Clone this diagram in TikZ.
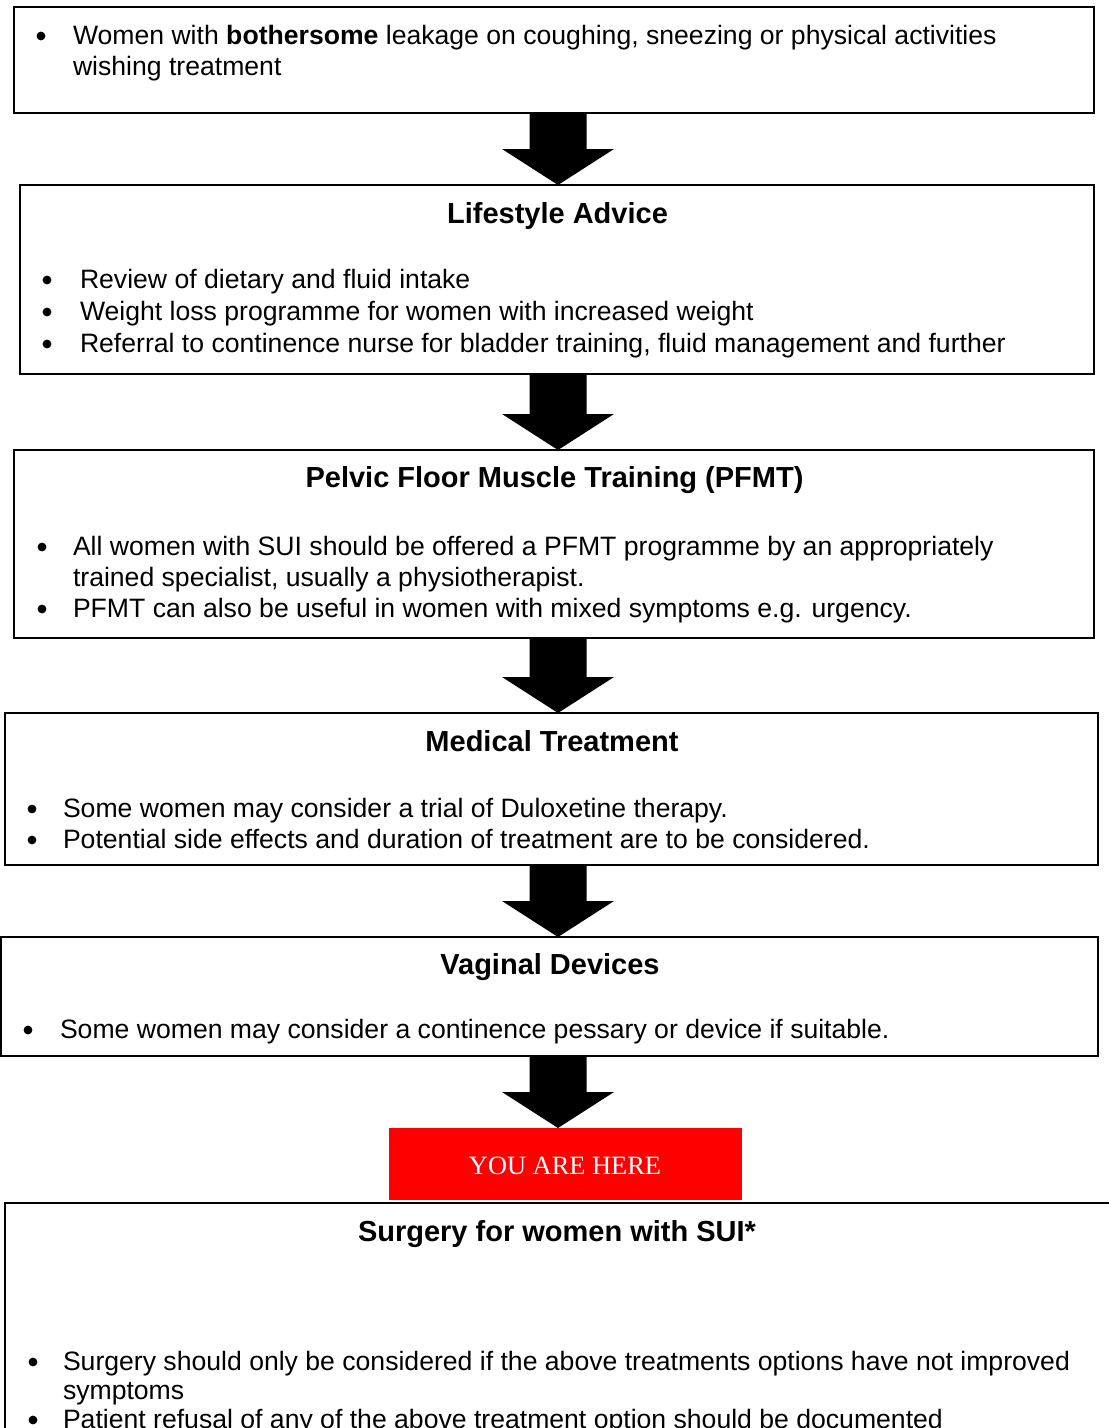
\documentclass[tikz,border=0pt]{standalone}
\usepackage{fontspec}
\setmainfont{Liberation Sans}
\newfontfamily\redserif{Liberation Serif}
\usetikzlibrary{calc}
\begin{document}
\begin{tikzpicture}[x=0.75pt,y=-0.75pt,
  box/.style={draw=black,line width=1.2pt,anchor=north west,inner sep=0,outer sep=0},
  body/.style={anchor=base west,inner sep=0,outer sep=0,font=\fontsize{19.95pt}{24pt}\selectfont},
  bul/.style={circle,fill=black,inner sep=0,outer sep=0,minimum size=6.6pt,yshift=6pt},
  ttl/.style={anchor=base,inner sep=0,outer sep=0,font=\fontsize{21.75pt}{26pt}\selectfont\bfseries},
  redbox/.style={fill={rgb,255:red,255;green,0;blue,0},anchor=north west,inner sep=0,outer sep=0},
  blk/.style={fill=black}]
\useasboundingbox (0,0) rectangle (1109,1428);
\clip (0,0) rectangle (1109,1428);
\fill[white] (0,0) rectangle (1109,1428);
\coordinate (ax) at (558,0);
% boxes
\node[box,minimum width=810pt,minimum height=79.5pt] (b1) at (14,7) {};
\node[box,minimum width=805.5pt,minimum height=141.75pt] (b2) at (20,185) {};
\node[box,minimum width=810pt,minimum height=141pt] (b3) at (14,450) {};
\node[box,minimum width=819.75pt,minimum height=114pt] (b4) at (5,713) {};
\node[box,minimum width=822.75pt,minimum height=89.25pt] (b5) at (1,937) {};
\node[redbox,minimum width=264.75pt,minimum height=54pt] (red) at (389,1128) {};
\node[inner sep=0,text=white,font=\fontsize{19.8pt}{24pt}\redserif] (redt) at (565,1166) {YOU ARE HERE};
\node[box,minimum width=847.5pt,minimum height=225pt] (b6) at (5,1203) {};
% arrows
\foreach \a/\b in {b1/b2,b2/b3,b3/b4,b4/b5,b5/red}{
  \fill[blk] ($(\a.south -| ax)+(-28.5,0)$) -- ($(\b.north -| ax)+(-28.5,-36)$)
    -- ($(\b.north -| ax)+(-56,-36)$) -- (\b.north -| ax)
    -- ($(\b.north -| ax)+(56,-36)$) -- ($(\b.north -| ax)+(28.5,-36)$)
    -- ($(\a.south -| ax)+(28.5,0)$) -- cycle;
}
% box 1
\node[bul] (b1u1) at (41,44) {};
\node[body] (b1l1) at (73,44) {Women with \textbf{bothersome} leakage on coughing, sneezing or physical activities};
\node[body] (b1l2) at (73,75) {wishing treatment};
% box 2
\node[ttl] (b2t) at (557.5,223) {Lifestyle Advice};
\node[bul] (b2u1) at (47,288) {};
\node[body] (b2l1) at (80,288) {Review of dietary and fluid intake};
\node[bul] (b2u2) at (47,320) {};
\node[body] (b2l2) at (80,320) {Weight loss programme for women with increased weight};
\node[bul] (b2u3) at (47,352) {};
\node[body] (b2l3) at (80,352) {Referral to continence nurse for bladder training, fluid management and further};
% box 3
\node[ttl] (b3t) at (554.5,487) {Pelvic Floor Muscle Training (PFMT)};
\node[bul] (b3u1) at (42,555) {};
\node[body] (b3l1) at (73,555) {All women with SUI should be offered a PFMT programme by an appropriately};
\node[body] (b3l2) at (73,586) {trained specialist, usually a physiotherapist.};
\node[bul] (b3u2) at (42,617) {};
\node[body] (b3l3) at (73,617) {PFMT can also be useful in women with mixed symptoms e.g. urgency.};
% box 4
\node[ttl] (b4t) at (552,751) {Medical Treatment};
\node[bul] (b4u1) at (32,817) {};
\node[body] (b4l1) at (63,817) {Some women may consider a trial of Duloxetine therapy.};
\node[bul] (b4u2) at (32,848) {};
\node[body] (b4l2) at (63,848) {Potential side effects and duration of treatment are to be considered.};
% box 5
\node[ttl] (b5t) at (550,974) {Vaginal Devices};
\node[bul] (b5u1) at (28,1038) {};
\node[body] (b5l1) at (60,1038) {Some women may consider a continence pessary or device if suitable.};
% box 6
\node[ttl] (b6t) at (557,1241) {Surgery for women with SUI*};
\node[bul] (b6u1) at (33,1370) {};
\node[body] (b6l1) at (63,1370) {Surgery should only be considered if the above treatments options have not improved};
\node[body] (b6l2) at (63,1399) {symptoms};
\node[bul] (b6u2) at (33,1428) {};
\node[body] (b6l3) at (63,1428) {Patient refusal of any of the above treatment option should be documented};
\end{tikzpicture}
\end{document}
